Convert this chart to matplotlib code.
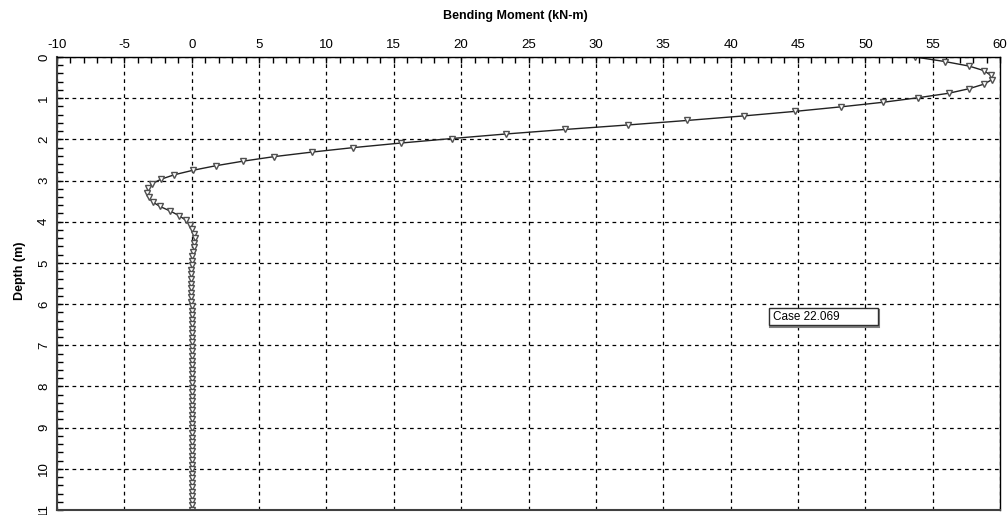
import matplotlib
matplotlib.use('Agg')
import matplotlib.pyplot as plt
from matplotlib.patches import Rectangle
from matplotlib.ticker import MultipleLocator

# node depths (m) along the pile
depth = [
    0.00, 0.11, 0.22, 0.33, 0.44, 0.55, 0.66, 0.77, 0.88, 0.99,
    1.10, 1.21, 1.32, 1.43, 1.54, 1.65, 1.76, 1.87, 1.98, 2.09,
    2.20, 2.31, 2.42, 2.53, 2.64, 2.75, 2.86, 2.97, 3.08, 3.19,
    3.30, 3.41, 3.52, 3.63, 3.74, 3.85, 3.96, 4.07, 4.18, 4.29,
    4.40, 4.51, 4.62, 4.73, 4.84, 4.95, 5.06, 5.17, 5.28, 5.39,
    5.50, 5.61, 5.72, 5.83, 5.94, 6.05, 6.16, 6.27, 6.38, 6.49,
    6.60, 6.71, 6.82, 6.93, 7.04, 7.15, 7.26, 7.37, 7.48, 7.59,
    7.70, 7.81, 7.92, 8.03, 8.14, 8.25, 8.36, 8.47, 8.58, 8.69,
    8.80, 8.91, 9.02, 9.13, 9.24, 9.35, 9.46, 9.57, 9.68, 9.79,
    9.90, 10.01, 10.12, 10.23, 10.34, 10.45, 10.56, 10.67, 10.78, 10.89,
    11.00,
]

# bending moment (kN-m)
moment = [
    53.7, 55.9, 57.7, 58.8, 59.3, 59.4, 58.8, 57.7, 56.2, 53.9,
    51.3, 48.2, 44.8, 41.0, 36.8, 32.4, 27.7, 23.3, 19.3, 15.5,
    12.0, 8.9, 6.1, 3.8, 1.8, 0.1, -1.3, -2.3, -2.95, -3.25,
    -3.35, -3.2, -2.9, -2.35, -1.6, -0.95, -0.45, -0.15, 0.05, 0.2,
    0.25, 0.2, 0.15, 0.1, 0.05, 0.02, 0.0, -0.02, -0.03, -0.03,
    -0.03, -0.03, -0.02, -0.02, -0.02, -0.01, -0.01, -0.01, -0.01, 0.0,
    0.0, 0.0, 0.0, 0.0, 0.0, 0.0, 0.0, 0.0, 0.0, 0.0,
    0.0, 0.0, 0.0, 0.0, 0.0, 0.0, 0.0, 0.0, 0.0, 0.0,
    0.0, 0.0, 0.0, 0.0, 0.0, 0.0, 0.0, 0.0, 0.0, 0.0,
    0.0, 0.0, 0.0, 0.0, 0.0, 0.0, 0.0, 0.0, 0.0, 0.0,
    0.0,
]

case_label = 'Case 22.069'

plt.rcParams['font.family'] = ['Liberation Sans', 'DejaVu Sans']
plt.rcParams['axes.unicode_minus'] = False

fig = plt.figure(figsize=(10.08, 5.15), dpi=100)
ax = fig.add_axes([57 / 1008, 5 / 515, 943 / 1008, 453 / 515])

ax.plot(moment, depth, color='#222222', linewidth=1.0,
        marker='v', markersize=5, markerfacecolor='white',
        markeredgecolor='#505050', markeredgewidth=1.0)

ax.set_xlim(-10, 60)
ax.set_ylim(11, 0)

ax.xaxis.tick_top()
ax.xaxis.set_major_locator(MultipleLocator(5))
ax.xaxis.set_minor_locator(MultipleLocator(1))
ax.yaxis.set_major_locator(MultipleLocator(1))
ax.yaxis.set_minor_locator(MultipleLocator(0.2))

ax.tick_params(which='both', direction='in', length=4.5, width=1,
               color='black', labelsize=9.5)
ax.tick_params(axis='x', which='both', top=True, bottom=False, pad=4)
ax.tick_params(axis='y', which='both', left=True, right=False, pad=5,
               labelrotation=90)
for lbl in ax.get_yticklabels():
    lbl.set_va('center')

ax.grid(True, which='major', color='black', linestyle=(0, (3, 3)),
        linewidth=0.9)

for side in ['left', 'bottom']:
    ax.spines[side].set_color('#404040')
    ax.spines[side].set_linewidth(1.5)
for side in ['top', 'right']:
    ax.spines[side].set_color('black')
    ax.spines[side].set_linewidth(1.0)

fig.text(515 / 1008, 1 - 16 / 515, 'Bending Moment (kN-m)',
         ha='center', va='center', fontsize=9, fontweight='bold')
fig.text(20 / 1008, 1 - 271 / 515, 'Depth (m)', rotation=90,
         ha='center', va='center', fontsize=9, fontweight='bold')

# case label box
ax.add_patch(Rectangle((0.7565, 0.405), 0.1156, 0.0375,
                       transform=ax.transAxes, facecolor='none',
                       edgecolor='#808080', linewidth=1.5, zorder=4))
ax.add_patch(Rectangle((0.755, 0.408), 0.1156, 0.0375,
                       transform=ax.transAxes, facecolor='white',
                       edgecolor='#303030', linewidth=1.0, zorder=5))
ax.text(0.759, 0.4265, case_label, transform=ax.transAxes,
        ha='left', va='center', fontsize=8.5, zorder=6)

fig.savefig('out.png', dpi=100)
